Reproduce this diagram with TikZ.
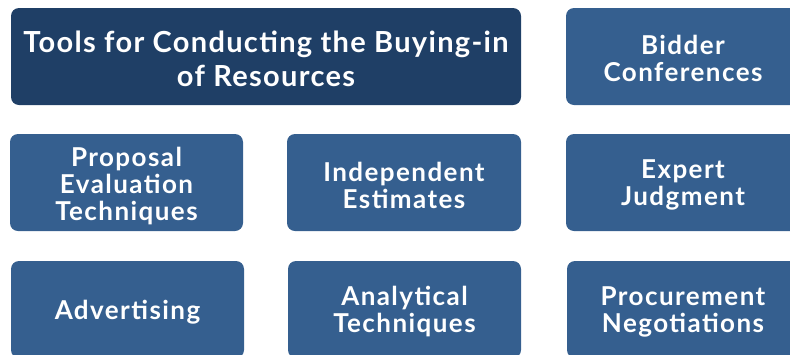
\documentclass[tikz,border=0pt]{standalone}
\usepackage{fontspec}
\setmainfont{Lato}
\newfontfamily\tilefont[LetterSpace=5.5]{Lato}
\newfontfamily\titlefont[LetterSpace=4.5]{Lato}
\definecolor{titleblue}{RGB}{31,63,102}
\definecolor{boxblue}{RGB}{53,95,143}
\tikzset{
  tile/.style={fill=boxblue, draw=none, rounded corners=8pt},
  titletile/.style={fill=titleblue, draw=none, rounded corners=8pt},
  tiletext/.style={text=white, font=\tilefont\fontsize{26}{27}\selectfont\bfseries, align=center, inner sep=0pt},
  titletext/.style={text=white, font=\titlefont\fontsize{29}{34}\selectfont\bfseries, align=center, inner sep=0pt}
}
\begin{document}
\begin{tikzpicture}[x=1pt,y=-1pt]
\useasboundingbox (0,0) rectangle (790,354);
\clip (0,0) rectangle (790,354);
% row 1
\fill[titletile] (11,8) rectangle (521,105);
\node[titletext] (title) at (266,59) {Tools for Conducting the Buying-in\\of Resources};
\fill[tile] (566,8) rectangle (800,105);
\node[tiletext] (bidder) at (683,58) {Bidder\\Conferences};
% row 2
\fill[tile] (10,134) rectangle (243,231);
\node[tiletext] (proposal) at (126.5,186) {Proposal\\Evaluation\\Techniques};
\fill[tile] (287,134) rectangle (521,231);
\node[tiletext] (indep) at (404,185) {Independent\\Estimates};
\fill[tile] (566,134) rectangle (800,231);
\node[tiletext] (expert) at (683,185) {Expert\\Judgment};
% row 3
\fill[tile] (11,261) rectangle (244,358);
\node[tiletext] (adv) at (127.5,312) {Advertising};
\fill[tile] (288,261) rectangle (521,358);
\node[tiletext] (anal) at (404.5,312) {Analytical\\Techniques};
\fill[tile] (567,261) rectangle (800,358);
\node[tiletext] (proc) at (683,312) {Procurement\\Negotiations};
\end{tikzpicture}
\end{document}
